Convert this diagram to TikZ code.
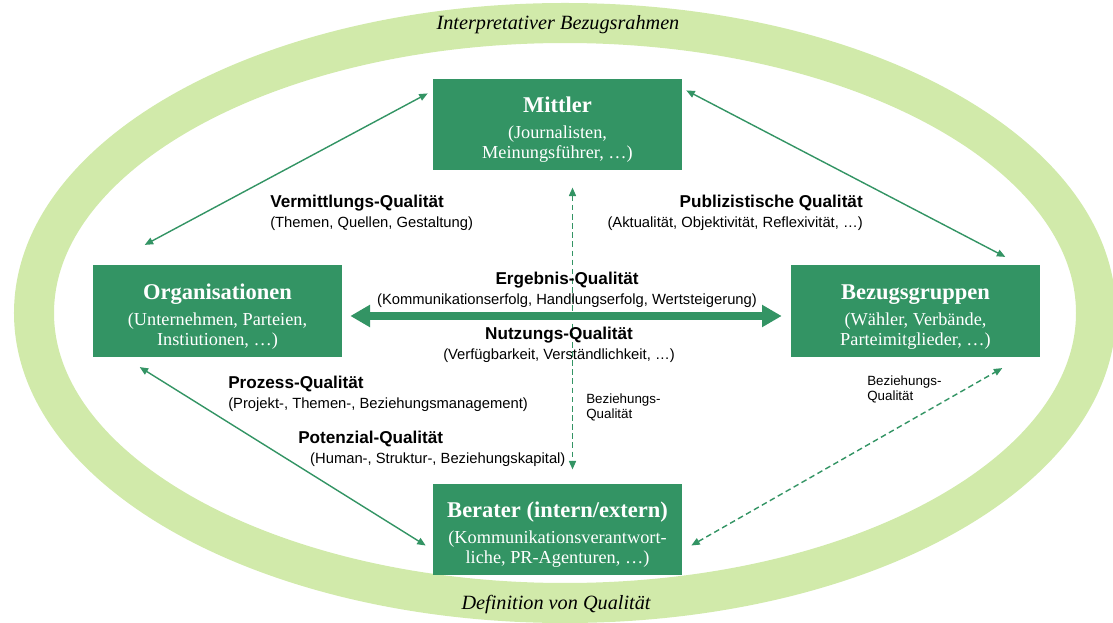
\documentclass[tikz,border=0pt]{standalone}
\usepackage{fontspec}
\setmainfont{Liberation Serif}
\setsansfont{Liberation Sans}
\usetikzlibrary{arrows.meta}
\definecolor{boxgreen}{RGB}{51,148,100}
\definecolor{ringgreen}{RGB}{209,234,170}
\newcommand\boxhead[1]{{\fontsize{16}{18}\selectfont\bfseries\rule{0pt}{18.5pt}#1}}
\newcommand\qhead[1]{{\fontsize{12.2}{14}\selectfont\bfseries #1}}

\begin{document}
\begin{tikzpicture}[x=0.025cm,y=-0.025cm,
  box/.style={fill=boxgreen,text=white,minimum width=6.225cm,minimum height=2.29cm,
    inner sep=0pt,align=center,font=\fontsize{13}{14.2}\selectfont},
  qual/.style={inner sep=0pt,font=\sffamily\fontsize{10.5}{14.2}\selectfont},
  bez/.style={inner sep=0pt,align=left,font=\sffamily\fontsize{9.5}{10.5}\selectfont},
  frame/.style={inner sep=0pt,font=\itshape\fontsize{14.4}{16}\selectfont},
  conn/.style={boxgreen,line width=1pt,{Triangle[length=6pt,width=5pt]}-{Triangle[length=6pt,width=5pt]}},
  dconn/.style={conn,dash pattern=on 4pt off 2.5pt},
  bigarr/.style={boxgreen,line width=5pt,{Triangle[length=14pt,width=15pt]}-{Triangle[length=14pt,width=15pt]}}]
\useasboundingbox (0,0) rectangle (1113,623);
% Rahmen
\draw [ringgreen,line width=1cm] (565,313) ellipse [x radius=531, y radius=290];
\node [frame] (rahmen) at (558,25) {Interpretativer Bezugsrahmen};
\node [frame] (defin) at (556,605) {Definition von Qualität};

% Akteure
\node [box] (mit) at (557.5,124.5) {\boxhead{Mittler}\\[4.3pt] (Journalisten,\\ Meinungsführer, \dots)};
\node [box] (org) at (217.5,311) {\boxhead{Organisationen}\\[4.3pt] (Unternehmen, Parteien,\\ Instiutionen, \dots)};
\node [box] (bzg) at (915.5,311) {\boxhead{Bezugsgruppen}\\[4.3pt] (Wähler, Verbände,\\ Parteimitglieder, \dots)};
\node [box] (ber) at (557.5,529.5) {\boxhead{Berater (intern/extern)}\\[4.3pt] (Kommunikationsverantwort-\\ liche, PR-Agenturen, \dots)};

% Verbindungen
\draw [conn] ([shift={(-5,15)}]mit.north west) -- ([shift={(52,-20)}]org.north west);
\draw [conn] ([shift={(4,12)}]mit.north east) -- ([shift={(-35,-8)}]bzg.north east);
\draw [conn] ([shift={(47,10)}]org.south west) -- ([shift={(-7,16)}]ber.west);
\draw [dconn] ([shift={(9,16)}]ber.east) -- ([shift={(-38,11)}]bzg.south east);
\draw [dconn] ([shift={(15,17)}]mit.south) -- ([shift={(15,-14)}]ber.north);
\draw [bigarr] ([shift={(8,5)}]org.east) -- ([shift={(-9,5)}]bzg.west);

% Qualitaeten
\node [qual,anchor=north west,align=left] (verm) at (270,195)
  {\qhead{Vermittlungs-Qualität}\\ (Themen, Quellen, Gestaltung)};
\node [qual,anchor=north east,align=right] (publ) at (863,195)
  {\qhead{Publizistische Qualität}\\ (Aktualität, Objektivität, Reflexivität, \dots)};
\node [qual,anchor=north,align=center] (ergeb) at (567,272)
  {\qhead{Ergebnis-Qualität}\\ (Kommunikationserfolg, Handlungserfolg, Wertsteigerung)};
\node [qual,anchor=north,align=center] (nutz) at (559,327)
  {\qhead{Nutzungs-Qualität}\\ (Verfügbarkeit, Verständlichkeit, \dots)};
\node [qual,anchor=north west,align=left] (proz) at (228,376)
  {\qhead{Prozess-Qualität}\\ (Projekt-, Themen-, Beziehungsmanagement)};
\node [qual,anchor=north west,align=left] (pot) at (298,431)
  {\qhead{Potenzial-Qualität}\\ \hspace*{8.5pt}(Human-, Struktur-, Beziehungskapital)};
\node [bez,anchor=north west] (bez1) at (586,394) {Beziehungs-\\Qualität};
\node [bez,anchor=north west] (bez2) at (867,376) {Beziehungs-\\Qualität};

\end{tikzpicture}
\end{document}
